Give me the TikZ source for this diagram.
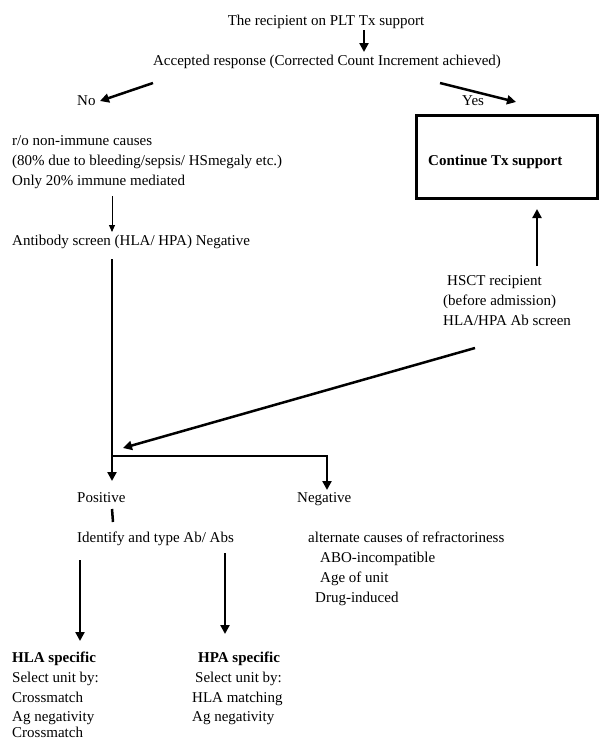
\documentclass[tikz,border=0pt]{standalone}
\usepackage{fontspec}
\setmainfont{Liberation Serif}
\usetikzlibrary{arrows.meta}
\begin{document}
\begin{tikzpicture}[x=1pt,y=-1pt,
  txt/.style={anchor=base west,inner sep=0pt,font=\fontsize{15}{17}\selectfont},
  ctxt/.style={anchor=base,inner sep=0pt,font=\fontsize{15}{17}\selectfont},
  bold/.style={txt,font=\fontsize{15}{17}\selectfont\bfseries},
  thickarrow/.style={line width=2.5pt,-{Triangle[length=9pt,width=9pt]}},
  thinarrow/.style={line width=0.9pt,-{Triangle[length=7pt,width=6pt]}},
  thickline/.style={line width=2.5pt},
  box/.style={draw,line width=3pt,minimum width=181pt,minimum height=83pt,inner sep=0pt}
]
\useasboundingbox (0,0) rectangle (604,740);
\node[ctxt] (title) at (326,25) {The recipient on PLT Tx support};
\node[ctxt] (acc) at (327,65) {Accepted response (Corrected Count Increment achieved)};
\node[txt] (no) at (77,105) {No};
\node[txt] (yes) at (462,105) {Yes};
\node[box] (cont) at (507,157) {};
\node[bold] (conttxt) at (428,165) {Continue Tx support};
\node[txt] (ro1) at (12,145) {r/o non-immune causes};
\node[txt] (ro2) at (12,165) {(80\% due to bleeding/sepsis/ HSmegaly etc.)};
\node[txt] (ro3) at (12,185) {Only 20\% immune mediated};
\node[txt] (ab) at (12,245) {Antibody screen (HLA/ HPA) Negative};
\node[txt] (hs1) at (447,285) {HSCT recipient};
\node[txt] (hs2) at (443,305) {(before admission)};
\node[txt] (hs3) at (443,325) {HLA/HPA Ab screen};
\node[txt] (pos) at (77,502) {Positive};
\node[txt] (neg) at (297,502) {Negative};
\node[txt] (ident) at (77,542) {Identify and type Ab/ Abs};
\node[txt] (alt) at (308,542) {alternate causes of refractoriness};
\node[txt] (abo) at (320,562) {ABO-incompatible};
\node[txt] (age) at (320,582) {Age of unit};
\node[txt] (drug) at (315,602) {Drug-induced};
\node[bold] (hla) at (12,662) {HLA specific};
\node[txt] (hla1) at (12,682) {Select unit by:};
\node[txt] (hla2) at (12,702) {Crossmatch};
\node[txt] (hla3) at (12,721) {Ag negativity};
\node[txt] (hla4) at (12,737) {Crossmatch};
\node[bold] (hpa) at (198,662) {HPA specific};
\node[txt] (hpa1) at (195,682) {Select unit by:};
\node[txt] (hpa2) at (192,702) {HLA matching};
\node[txt] (hpa3) at (192,721) {Ag negativity};
% coordinates
\coordinate (a1s) at (364,30);
\coordinate (a1e) at (364,52);
\coordinate (nos) at (153,83);
\coordinate (noe) at (100,101);
\coordinate (yess) at (440,83);
\coordinate (yese) at (516,102);
\coordinate (ths) at (112,196);
\coordinate (the) at (112,232);
\coordinate (vs) at (112,259);
\coordinate (junc) at (112,456);
\coordinate (vpos) at (112,481);
\coordinate (jneg) at (327,456);
\coordinate (vneg) at (327,490);
\coordinate (ups) at (537,266);
\coordinate (upe) at (537,209);
\coordinate (dgs) at (475,348);
\coordinate (dge) at (123,448);
\coordinate (pls) at (112,509);
\coordinate (ple) at (113,522);
\coordinate (hlas) at (80,560);
\coordinate (hlae) at (80,641);
\coordinate (hpas) at (225,553);
\coordinate (hpae) at (225,634);
% connectors
\draw[thickarrow] (a1s) -- (a1e);
\draw[thickarrow] (nos) -- (noe);
\draw[thickarrow] (yess) -- (yese);
\draw[thinarrow] (ths) -- (the);
\draw[thickarrow] (vs) -- (vpos);
\draw[thickarrow] (junc) -- (jneg) -- (vneg);
\draw[thickarrow] (ups) -- (upe);
\draw[thickarrow] (dgs) -- (dge);
\draw[thickline] (pls) -- (ple);
\draw[thickarrow] (hlas) -- (hlae);
\draw[thickarrow] (hpas) -- (hpae);
\end{tikzpicture}
\end{document}
